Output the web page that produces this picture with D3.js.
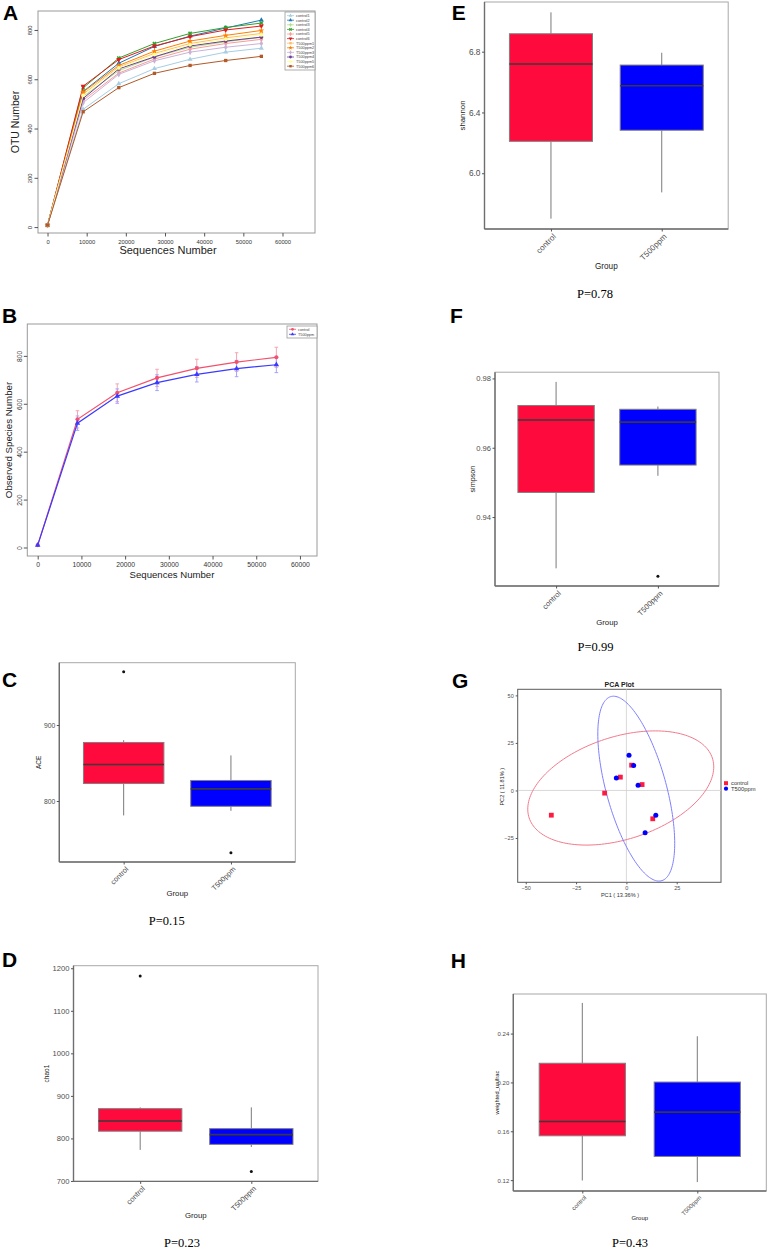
<!DOCTYPE html>
<html>
<head>
<meta charset="utf-8">
<script src="https://cdn.jsdelivr.net/npm/d3@7"></script>
<style>
  body { margin: 0; background: #fff; }
</style>
</head>
<body>
<svg id="fig" width="768" height="1249"></svg>
<script>
// ---------- data ----------
const seqDepths = [0, 9100, 18200, 27300, 36400, 45500, 54600];
const sampleNames = ["control1", "control2", "control3", "control4", "control5", "control6",
                     "T500ppm1", "T500ppm2", "T500ppm3", "T500ppm4", "T500ppm5", "T500ppm6"];
const otuCounts = [
  [8, 478, 582, 643, 681, 710, 726],
  [8, 550, 665, 733, 775, 808, 840],
  [8, 530, 635, 690, 730, 752, 770],
  [8, 565, 686, 745, 786, 810, 828],
  [8, 515, 625, 682, 722, 745, 762],
  [8, 572, 680, 735, 773, 800, 816],
  [8, 540, 650, 705, 745, 768, 786],
  [8, 548, 656, 714, 755, 778, 798],
  [8, 505, 620, 675, 710, 730, 745],
  [8, 522, 642, 691, 735, 755, 771],
  [8, 535, 646, 700, 740, 762, 780],
  [8, 468, 566, 624, 656, 676, 693]
];

const groupNames = ["control", "T500ppm"];
const controlSpecies = [10, 535, 646, 708, 748, 774, 794];
const controlSpeciesErr = [0, 36, 37, 36, 38, 39, 42];
const t500Species = [10, 519, 632, 688, 723, 747, 763];
const t500SpeciesErr = [0, 30, 30, 33, 32, 34, 33];

// box statistics: lower whisker, Q1, median, Q3, upper whisker, outliers
const aceStats = [
  { lo: 781, q1: 823, med: 848, q3: 877, hi: 880, out: [970] },
  { lo: 787, q1: 793, med: 816, q3: 827, hi: 860, out: [732] }
];
const chao1Stats = [
  { lo: 773, q1: 817, med: 841, q3: 870, hi: 873, out: [1182] },
  { lo: 780, q1: 786, med: 809, q3: 823, hi: 873, out: [722] }
];
const shannonStats = [
  { lo: 5.701, q1: 6.210, med: 6.719, q3: 6.918, hi: 7.059, out: [] },
  { lo: 5.874, q1: 6.283, med: 6.576, q3: 6.712, hi: 6.793, out: [] }
];
const simpsonStats = [
  { lo: 0.9252, q1: 0.9471, med: 0.9680, q3: 0.9722, hi: 0.9790, out: [] },
  { lo: 0.9519, q1: 0.9550, med: 0.9674, q3: 0.9711, hi: 0.9719, out: [0.9229] }
];
const unifracStats = [
  { lo: 0.1197, q1: 0.1563, med: 0.1680, q3: 0.2157, hi: 0.2651, out: [] },
  { lo: 0.1184, q1: 0.1394, med: 0.1757, q3: 0.2003, hi: 0.2378, out: [] }
];

const pcaControl = [[-37.3, -13.0], [-10.8, -1.4], [-3.0, 7.0], [2.6, 13.3], [7.8, 3.1], [13.1, -14.9]];
const pcaT500 = [[1.3, 18.5], [3.6, 13.1], [-5.0, 6.6], [5.8, 2.8], [14.6, -13.0], [9.3, -22.3]];
// ellipse: x = cx + a1 cos t, y = cy + b1 cos t + b2 sin t (data units)
const pcaEllipses = [
  { cx: -2.8, cy: 1.3, a1: 46.2, b1: 11.1, b2: 27.9 },
  { cx: 4.9, cy: 0.95, a1: 19.1, b1: -28.75, b2: 39.2 }
];
const pValues = ["P=0.15", "P=0.23", "P=0.78", "P=0.99", "P=0.43"];

// ---------- drawing ----------
const SANS = '"Liberation Sans", Arial, Helvetica, sans-serif';
const SERIF = '"Liberation Serif", "Times New Roman", serif';
const svg = d3.select("#fig");
svg.append("rect").attr("width", 768).attr("height", 1249).attr("fill", "#fff");

function letter(txt, x, y) {
  svg.append("text").attr("x", x).attr("y", y)
    .attr("font-family", SANS).attr("font-weight", "bold").attr("font-size", 21)
    .text(txt);
}

function vTitle(g, txt, x, y, fs) {
  g.append("text").attr("transform", `translate(${x},${y}) rotate(-90)`)
    .attr("dy", "0.35em").attr("text-anchor", "middle")
    .attr("font-family", SANS).attr("font-size", fs).attr("fill", "#222").text(txt);
}

// R base graphics style frame + axes
function baseAxes(g, f, x, y, xTicks, yTicks, fs, xLabOff, yLabOff) {
  g.append("rect").attr("x", f.x0).attr("y", f.y0)
    .attr("width", f.x1 - f.x0).attr("height", f.y1 - f.y0)
    .attr("fill", "none").attr("stroke", "#9a9a9a").attr("stroke-width", 1);

  const xa = g.append("g").attr("transform", `translate(0,${f.y1})`)
    .call(d3.axisBottom(x).tickValues(xTicks).tickSize(3.5).tickFormat(d3.format("d")));
  xa.select(".domain").remove();
  xa.selectAll("line").attr("stroke", "#555");
  xa.selectAll("text").attr("dy", null).attr("y", xLabOff)
    .attr("font-family", SANS).attr("font-size", fs).attr("fill", "#333");

  const ya = g.append("g").attr("transform", `translate(${f.x0},0)`)
    .call(d3.axisLeft(y).tickValues(yTicks).tickSize(3.5).tickFormat(d3.format("d")));
  ya.select(".domain").remove();
  ya.selectAll("line").attr("stroke", "#555");
  ya.selectAll("text").attr("transform", "rotate(-90)")
    .attr("x", 0).attr("y", -yLabOff).attr("dy", null).attr("text-anchor", "middle")
    .attr("font-family", SANS).attr("font-size", fs).attr("fill", "#333");
}

const shapeList = [d3.symbolTriangle, d3.symbolTriangle, d3.symbolCross, d3.symbolCross,
                   d3.symbolDiamond, d3.symbolTriangle, d3.symbolSquare, d3.symbolStar,
                   d3.symbolDiamond, d3.symbolCircle, d3.symbolCircle, d3.symbolSquare];
const shapeRot = [0, 0, 0, 45, 0, 180, 0, 0, 0, 0, 0, 0];

// ---- A: rarefaction curves per sample ----
function renderRarefaction() {
  const g = svg.append("g");
  const f = { x0: 38, x1: 315, y0: 11, y1: 233 };
  const x = d3.scaleLinear().domain([-2430, 68300]).range([f.x0, f.x1]);
  const y = d3.scaleLinear().domain([-24, 877]).range([f.y1, f.y0]);
  const colors = d3.schemePaired;

  baseAxes(g, f, x, y, d3.range(0, 60001, 10000), d3.range(0, 801, 200), 5.8, 11, 6.3);

  const line = d3.line().x((d, i) => x(seqDepths[i])).y(d => y(d));
  otuCounts.forEach((vals, s) => {
    g.append("path").datum(vals).attr("d", line)
      .attr("fill", "none").attr("stroke", colors[s]).attr("stroke-width", 1);
    g.selectAll(null).data(vals).enter().append("path")
      .attr("transform", (d, i) => `translate(${x(seqDepths[i])},${y(d)}) rotate(${shapeRot[s]})`)
      .attr("d", d3.symbol().type(shapeList[s]).size(11))
      .attr("fill", colors[s]);
  });

  const lg = g.append("g").attr("transform", "translate(285,12)");
  lg.append("rect").attr("width", 30).attr("height", 58)
    .attr("fill", "#fff").attr("stroke", "#9a9a9a").attr("stroke-width", 0.8);
  sampleNames.forEach((name, s) => {
    const yy = 3.6 + s * 4.6;
    lg.append("line").attr("x1", 2).attr("x2", 9).attr("y1", yy).attr("y2", yy)
      .attr("stroke", colors[s]).attr("stroke-width", 0.8);
    lg.append("path").attr("transform", `translate(5.5,${yy}) rotate(${shapeRot[s]})`)
      .attr("d", d3.symbol().type(shapeList[s]).size(6)).attr("fill", colors[s]);
    lg.append("text").attr("x", 11).attr("y", yy).attr("dy", "0.35em")
      .attr("font-family", SANS).attr("font-size", 3.8).attr("fill", "#444").text(name);
  });

  vTitle(g, "OTU Number", 15, 122, 10.5);
  g.append("text").attr("x", 168).attr("y", 254).attr("text-anchor", "middle")
    .attr("font-family", SANS).attr("font-size", 11).attr("fill", "#222").text("Sequences Number");
  letter("A", 3, 20);
}

// ---- B: group mean curves with error bars ----
function renderGroupCurves() {
  const g = svg.append("g");
  const f = { x0: 27.3, x1: 317, y0: 324, y1: 556 };
  const x = d3.scaleLinear().domain([-2380, 63900]).range([f.x0, f.x1]);
  const y = d3.scaleLinear().domain([-35.5, 933]).range([f.y1, f.y0]);

  baseAxes(g, f, x, y, d3.range(0, 60001, 10000), d3.range(0, 801, 200), 6.8, 11.3, 5.6);

  const series = [
    { name: groupNames[0], vals: controlSpecies, err: controlSpeciesErr, col: "#f4506c", errCol: "#f6a5b3", shape: d3.symbolCircle },
    { name: groupNames[1], vals: t500Species, err: t500SpeciesErr, col: "#3a3aff", errCol: "#a3a3ff", shape: d3.symbolTriangle }
  ];
  const line = d3.line().x((d, i) => x(seqDepths[i])).y(d => y(d));
  series.forEach(s => {
    s.vals.forEach((v, i) => {
      if (!s.err[i]) return;
      const cx = x(seqDepths[i]);
      g.append("line").attr("x1", cx).attr("x2", cx).attr("y1", y(v - s.err[i])).attr("y2", y(v + s.err[i]))
        .attr("stroke", s.errCol).attr("stroke-width", 1);
      [v - s.err[i], v + s.err[i]].forEach(e => {
        g.append("line").attr("x1", cx - 1.8).attr("x2", cx + 1.8).attr("y1", y(e)).attr("y2", y(e))
          .attr("stroke", s.errCol).attr("stroke-width", 1);
      });
    });
  });
  series.forEach(s => {
    g.append("path").datum(s.vals).attr("d", line)
      .attr("fill", "none").attr("stroke", s.col).attr("stroke-width", 1.2);
    g.selectAll(null).data(s.vals).enter().append("path")
      .attr("transform", (d, i) => `translate(${x(seqDepths[i])},${y(d)})`)
      .attr("d", d3.symbol().type(s.shape).size(13)).attr("fill", s.col);
  });

  const lg = g.append("g").attr("transform", "translate(287,326)");
  lg.append("rect").attr("width", 30).attr("height", 12)
    .attr("fill", "#fff").attr("stroke", "#9a9a9a").attr("stroke-width", 0.8);
  series.forEach((s, i) => {
    const yy = 3.3 + i * 5;
    lg.append("line").attr("x1", 2).attr("x2", 9).attr("y1", yy).attr("y2", yy)
      .attr("stroke", s.col).attr("stroke-width", 0.8);
    lg.append("path").attr("transform", `translate(5.5,${yy})`)
      .attr("d", d3.symbol().type(s.shape).size(6)).attr("fill", s.col);
    lg.append("text").attr("x", 11).attr("y", yy).attr("dy", "0.35em")
      .attr("font-family", SANS).attr("font-size", 3.8).attr("fill", "#444").text(s.name);
  });

  vTitle(g, "Observed Species Number", 8.5, 440, 9.7);
  g.append("text").attr("x", 172).attr("y", 577.5).attr("text-anchor", "middle")
    .attr("font-family", SANS).attr("font-size", 9.6).attr("fill", "#222").text("Sequences Number");
  letter("B", 2, 323);
}

// ---- C, D, E, F, H: ggplot style boxplots ----
const boxFill = ["#ff0a3c", "#0000ff"];
function renderBox(p) {
  const g = svg.append("g");
  const f = p.frame;
  const x = d3.scaleLinear().domain([0.4, 2.6]).range([f.x0, f.x1]);
  const y = d3.scaleLinear().domain(p.dom).range([f.y1, f.y0]);
  const half = x(1.375) - x(1);

  g.append("rect").attr("x", f.x0).attr("y", f.y0)
    .attr("width", f.x1 - f.x0).attr("height", f.y1 - f.y0)
    .attr("fill", "#fff").attr("stroke", "#a8a8a8").attr("stroke-width", 1);

  p.stats.forEach((s, i) => {
    const cx = x(i + 1);
    g.append("line").attr("x1", cx).attr("x2", cx).attr("y1", y(s.hi)).attr("y2", y(s.q3))
      .attr("stroke", "#7a7a7a").attr("stroke-width", 1);
    g.append("line").attr("x1", cx).attr("x2", cx).attr("y1", y(s.q1)).attr("y2", y(s.lo))
      .attr("stroke", "#7a7a7a").attr("stroke-width", 1);
    g.append("rect").attr("x", cx - half).attr("width", 2 * half)
      .attr("y", y(s.q3)).attr("height", y(s.q1) - y(s.q3))
      .attr("fill", boxFill[i]).attr("stroke", "#808080").attr("stroke-width", 1);
    g.append("line").attr("x1", cx - half).attr("x2", cx + half).attr("y1", y(s.med)).attr("y2", y(s.med))
      .attr("stroke", "#3a3a3a").attr("stroke-width", 1.6);
    g.selectAll(null).data(s.out).enter().append("circle")
      .attr("cx", cx).attr("cy", d => y(d)).attr("r", 1.5).attr("fill", "#111");
  });

  // darker left & bottom axis lines
  g.append("line").attr("x1", f.x0).attr("x2", f.x0).attr("y1", f.y0).attr("y2", f.y1)
    .attr("stroke", "#6e6e6e").attr("stroke-width", 1.4);
  g.append("line").attr("x1", f.x0).attr("x2", f.x1).attr("y1", f.y1).attr("y2", f.y1)
    .attr("stroke", "#6e6e6e").attr("stroke-width", 1.4);

  const ya = g.append("g").attr("transform", `translate(${f.x0},0)`)
    .call(d3.axisLeft(y).tickValues(p.ticks).tickSize(2.5).tickFormat(p.fmt));
  ya.select(".domain").remove();
  ya.selectAll("line").attr("stroke", "#555");
  ya.selectAll("text").attr("x", -4).attr("font-family", SANS).attr("font-size", p.tickFs).attr("fill", "#4d4d4d");

  const xa = g.append("g").attr("transform", `translate(0,${f.y1})`)
    .call(d3.axisBottom(x).tickValues([1, 2]).tickSize(2.5).tickFormat(i => groupNames[i - 1]));
  xa.select(".domain").remove();
  xa.selectAll("line").attr("stroke", "#555");
  xa.selectAll(".tick text")
    .attr("transform", "translate(1,4) rotate(-45)").attr("x", 0).attr("y", 0)
    .attr("dy", "0.71em").attr("text-anchor", "end")
    .attr("font-family", SANS).attr("font-size", p.catFs).attr("fill", "#4d4d4d");

  vTitle(g, p.title, p.titleX, (f.y0 + f.y1) / 2, p.titleFs);
  g.append("text").attr("x", (f.x0 + f.x1) / 2).attr("y", p.groupY).attr("text-anchor", "middle")
    .attr("font-family", SANS).attr("font-size", p.groupFs).attr("fill", "#222").text("Group");
  g.append("text").attr("x", p.px).attr("y", p.py).attr("text-anchor", "middle")
    .attr("font-family", SERIF).attr("font-size", 12.5).attr("fill", "#000").text(p.pText);
  letter(p.letter, p.lx, p.ly);
}

// ---- G: PCA ----
function renderPCA() {
  const g = svg.append("g");
  const f = { x0: 517.7, x1: 721, y0: 689.3, y1: 882.3 };
  const x = d3.scaleLinear().domain([-54, 47]).range([f.x0, f.x1]);
  const y = d3.scaleLinear().domain([-48.3, 53.2]).range([f.y1, f.y0]);

  svg.append("defs").append("clipPath").attr("id", "pcaClip")
    .append("rect").attr("x", f.x0).attr("y", f.y0).attr("width", f.x1 - f.x0).attr("height", f.y1 - f.y0);

  g.append("rect").attr("x", f.x0).attr("y", f.y0)
    .attr("width", f.x1 - f.x0).attr("height", f.y1 - f.y0)
    .attr("fill", "#fff").attr("stroke", "#5a5a5a").attr("stroke-width", 1);

  g.append("line").attr("x1", x(0)).attr("x2", x(0)).attr("y1", f.y0).attr("y2", f.y1)
    .attr("stroke", "#cfcfcf").attr("stroke-width", 0.8);
  g.append("line").attr("x1", f.x0).attr("x2", f.x1).attr("y1", y(0)).attr("y2", y(0))
    .attr("stroke", "#cfcfcf").attr("stroke-width", 0.8);

  const ellCols = ["#f27a8c", "#7f7fff"];
  const ts = d3.range(0, 2 * Math.PI + 0.001, Math.PI / 90);
  pcaEllipses.forEach((e, i) => {
    const pts = ts.map(t => [e.cx + e.a1 * Math.cos(t), e.cy + e.b1 * Math.cos(t) + e.b2 * Math.sin(t)]);
    g.append("path").datum(pts)
      .attr("d", d3.line().x(d => x(d[0])).y(d => y(d[1])))
      .attr("fill", "none").attr("stroke", ellCols[i]).attr("stroke-width", 1)
      .attr("clip-path", "url(#pcaClip)");
  });

  g.selectAll(null).data(pcaControl).enter().append("rect")
    .attr("x", d => x(d[0]) - 2.4).attr("y", d => y(d[1]) - 2.4)
    .attr("width", 4.8).attr("height", 4.8).attr("fill", "#ff1a40");
  g.selectAll(null).data(pcaT500).enter().append("circle")
    .attr("cx", d => x(d[0])).attr("cy", d => y(d[1])).attr("r", 2.5).attr("fill", "#0000ff");

  const xa = g.append("g").attr("transform", `translate(0,${f.y1})`)
    .call(d3.axisBottom(x).tickValues([-50, -25, 0, 25]).tickSize(2));
  xa.select(".domain").remove();
  xa.selectAll("line").attr("stroke", "#555");
  xa.selectAll("text").attr("y", 3.5).attr("font-family", SANS).attr("font-size", 5.5).attr("fill", "#4d4d4d");

  const ya = g.append("g").attr("transform", `translate(${f.x0},0)`)
    .call(d3.axisLeft(y).tickValues([-25, 0, 25, 50]).tickSize(2));
  ya.select(".domain").remove();
  ya.selectAll("line").attr("stroke", "#555");
  ya.selectAll("text").attr("x", -4).attr("font-family", SANS).attr("font-size", 5.5).attr("fill", "#4d4d4d");

  g.append("text").attr("x", (f.x0 + f.x1) / 2).attr("y", 687).attr("text-anchor", "middle")
    .attr("font-family", SANS).attr("font-weight", "bold").attr("font-size", 7).attr("fill", "#222").text("PCA Plot");
  g.append("text").attr("x", 620).attr("y", 896.5).attr("text-anchor", "middle")
    .attr("font-family", SANS).attr("font-size", 5.6).attr("fill", "#333").text("PC1 ( 13.36% )");
  vTitle(g, "PC2 ( 11.81% )", 502.3, 786.7, 5.6);

  const lg = g.append("g");
  lg.append("rect").attr("x", 724).attr("y", 781.2).attr("width", 4).attr("height", 4).attr("fill", "#ff1a40");
  lg.append("circle").attr("cx", 726).attr("cy", 788.7).attr("r", 2.1).attr("fill", "#0000ff");
  groupNames.forEach((name, i) => {
    lg.append("text").attr("x", 731).attr("y", 783.3 + i * 5.4).attr("dy", "0.35em")
      .attr("font-family", SANS).attr("font-size", 5.8).attr("fill", "#333").text(name);
  });
  letter("G", 452, 688);
}

renderRarefaction();
renderGroupCurves();

renderBox({ letter: "C", lx: 2, ly: 687, frame: { x0: 59.3, x1: 295.3, y0: 662.7, y1: 862 },
  dom: [719.7, 982], ticks: [800, 900], fmt: d3.format("d"), stats: aceStats,
  title: "ACE", titleX: 38.7, titleFs: 6.5, tickFs: 6.8, catFs: 7.2, groupFs: 7.8, groupY: 896,
  pText: pValues[0], px: 166.7, py: 925 });
renderBox({ letter: "D", lx: 2, ly: 967, frame: { x0: 73.5, x1: 318, y0: 965.7, y1: 1181.4 },
  dom: [699, 1206], ticks: d3.range(700, 1201, 100), fmt: d3.format("d"), stats: chao1Stats,
  title: "chao1", titleX: 47, titleFs: 6.5, tickFs: 7.6, catFs: 7.5, groupFs: 7.8, groupY: 1218,
  pText: pValues[1], px: 182, py: 1247 });
renderBox({ letter: "E", lx: 451.7, ly: 20, frame: { x0: 484.5, x1: 728.2, y0: 2, y1: 229 },
  dom: [5.633, 7.127], ticks: [6.0, 6.4, 6.8], fmt: d3.format(".1f"), stats: shannonStats,
  title: "shannon", titleX: 462, titleFs: 7.8, tickFs: 8.3, catFs: 8, groupFs: 8.2, groupY: 269,
  pText: pValues[2], px: 595, py: 298 });
renderBox({ letter: "F", lx: 450, ly: 323, frame: { x0: 495, x1: 719, y0: 372.2, y1: 586 },
  dom: [0.9201, 0.9818], ticks: [0.94, 0.96, 0.98], fmt: d3.format(".2f"), stats: simpsonStats,
  title: "simpson", titleX: 472, titleFs: 7.2, tickFs: 7.6, catFs: 7.5, groupFs: 7.8, groupY: 625,
  pText: pValues[3], px: 595.5, py: 651 });
renderBox({ letter: "H", lx: 450.7, ly: 968, frame: { x0: 513.3, x1: 766.3, y0: 994, y1: 1191 },
  dom: [0.1111, 0.2724], ticks: [0.12, 0.16, 0.20, 0.24], fmt: d3.format(".2f"), stats: unifracStats,
  title: "weighted_unifrac", titleX: 496.7, titleFs: 5.8, tickFs: 6, catFs: 6, groupFs: 6, groupY: 1220,
  pText: pValues[4], px: 630, py: 1247 });

renderPCA();
</script>
</body>
</html>
